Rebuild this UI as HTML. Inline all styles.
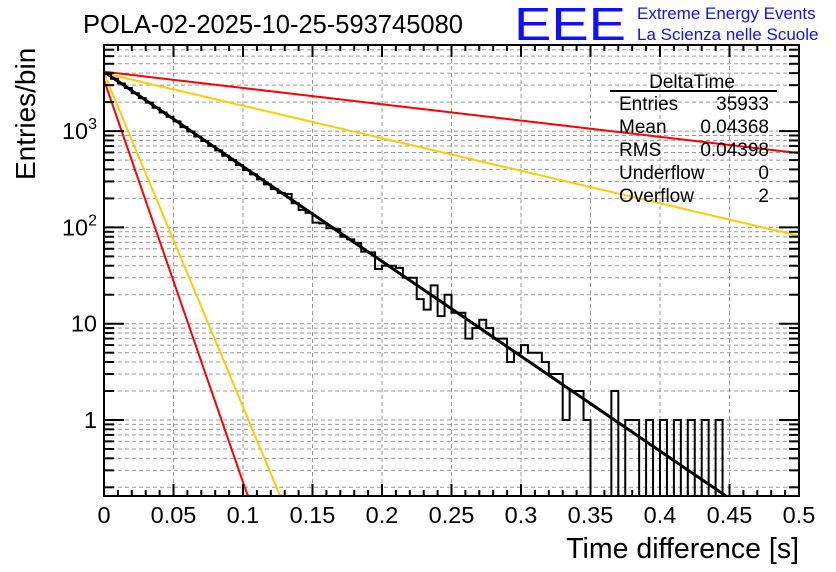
<!DOCTYPE html>
<html><head><meta charset="utf-8"><style>
body{margin:0;background:#fff;}
svg{display:block;font-family:"Liberation Sans",Arial,sans-serif;}
</style></head><body>
<svg id="c" width="836" height="572" viewBox="0 0 836 572" xmlns="http://www.w3.org/2000/svg">
<rect width="836" height="572" fill="#fff"/>
<g id="grid"></g>
<g id="curves"></g>
<g id="hist"></g>
<g id="axes"></g>
<text x="83" y="33" font-size="25.5">POLA-02-2025-10-25-593745080</text>
<text x="514" y="40" font-size="46" fill="#1010ff" textLength="112" lengthAdjust="spacingAndGlyphs">EEE</text>
<text x="637" y="19" font-size="17" fill="#1010ff">Extreme Energy Events</text>
<text x="637" y="40" font-size="17" fill="#1010ff">La Scienza nelle Scuole</text>
<text transform="translate(35,180) rotate(-90)" font-size="28">Entries/bin</text>
<text x="799" y="558" font-size="28.5" text-anchor="end">Time difference [s]</text>
<g font-size="19">
<text x="692" y="88" text-anchor="middle">DeltaTime</text>
<line x1="610" y1="91" x2="777" y2="91" stroke="#000" stroke-width="2"/>
<text x="619" y="110">Entries</text><text x="769" y="110" text-anchor="end">35933</text>
<text x="619" y="133">Mean</text><text x="769" y="133" text-anchor="end">0.04368</text>
<text x="619" y="156">RMS</text><text x="769" y="156" text-anchor="end">0.04398</text>
<text x="619" y="179">Underflow</text><text x="769" y="179" text-anchor="end">0</text>
<text x="619" y="202">Overflow</text><text x="769" y="202" text-anchor="end">2</text>
</g>
</svg>
<script>
const binWidth = 0.005;
const counts = [3900,3500,3120,2800,2470,2200,1975,1750,1560,1410,1260,1100,990,880,790,700,630,555,500,445,395,355,315,280,250,228,222,178,152,142,112,110,98,96,80,75,69,56,55,37,40,40,38,30,30,
18,14,25,12,20,13,13,7,9,11,9,7,7,4,5,6,5,5,4,3,3,1,2,2,1,0,0,0,2,0,1,1,0,1,0,1,0,1,0,1,0,1,0,1,0,0,0,0,0,0,0,0,0,0,0];
const fitAmp = [4140, 4140, 4000, 3390, 3980];
const fitTau = [0.0441, 0.2567, 0.1285, 0.0104, 0.01254];
const fitColor = ['#000','#ff0000','#ffcc00','#ff0000','#ffcc00'];
const xTicks = [0,0.05,0.1,0.15,0.2,0.25,0.3,0.35,0.4,0.45,0.5];
const xTickLabels = ['0','0.05','0.1','0.15','0.2','0.25','0.3','0.35','0.4','0.45','0.5'];
const yDecades = [1,10,100,1000];

const L=104,R=799,T=45,B=496;
const X=v=>L+v*(R-L)/0.5;
const Y=v=>420-96.3*Math.log10(v);
const yMin=Math.pow(10,(420-B)/96.3), yMax=Math.pow(10,(420-T)/96.3);
const NS='http://www.w3.org/2000/svg';
function mk(tag,attrs,parent){const e=document.createElementNS(NS,tag);for(const k in attrs)e.setAttribute(k,attrs[k]);parent.appendChild(e);return e;}
const grid=document.getElementById('grid'),axes=document.getElementById('axes'),hist=document.getElementById('hist'),curves=document.getElementById('curves');

xTicks.forEach(t=>{if(t>0&&t<0.5){const g=mk('line',{x1:X(t),x2:X(t),y1:T,y2:B,stroke:'#999','stroke-width':1,'stroke-dasharray':'4,3'},grid);

}});
for(let d=0.1;d<1e4;d*=10){for(let m=1;m<10;m++){const v=d*m;if(v<yMin||v>yMax)continue;const y=Y(v);
const g=mk('line',{x1:L,x2:R,y1:y,y2:y,stroke:'#999','stroke-width':1,'stroke-dasharray':'4,3'},grid);


const big=(m===1);const len=big?20:10;
const t1=mk('line',{x1:L,x2:L+len,y1:y,y2:y,stroke:'#000','stroke-width':2},axes);


const t2=mk('line',{x1:R,x2:R-len,y1:y,y2:y,stroke:'#000','stroke-width':2},axes);

}}

fitAmp.forEach((A,k)=>{let pts=[];for(let i=0;i<=400;i++){const x=0.5*i/400;const v=A*Math.exp(-x/fitTau[k]);if(v<yMin){pts.push([X(x),Y(yMin)]);break;}pts.push([X(x),Y(v)]);}
const p=mk('polyline',{points:pts.map(q=>q.join(',')).join(' '),fill:'none',stroke:fitColor[k],'stroke-width':k===0?3:2},curves);

});

let d='';const yc=v=>v<=0?B:Math.min(B,Y(v));
counts.forEach((c,i)=>{const x0=X(i*binWidth),x1=X((i+1)*binWidth);const y=yc(c);d+=(i===0?'M'+x0+','+y:'L'+x0+','+y)+'L'+x1+','+y;});
const hp=mk('path',{d:d,fill:'none',stroke:'#000','stroke-width':2},hist);



for(let i=0;i<=50;i++){const x=X(i*0.01);const len=(i%5===0)?12:6;
const a=mk('line',{x1:x,x2:x,y1:B,y2:B-len,stroke:'#000','stroke-width':2},axes);


const b=mk('line',{x1:x,x2:x,y1:T,y2:T+len,stroke:'#000','stroke-width':2},axes);

}
xTicks.forEach((t,i)=>{const tx=mk('text',{x:X(t),y:523,'font-size':23.5,'text-anchor':'middle'},axes);tx.textContent=xTickLabels[i];

});
yDecades.forEach(v=>{const y=Y(v);const tx=mk('text',{x:97,y:y+8,'font-size':23.5,'text-anchor':'end'},axes);


if(v<100){tx.textContent=String(v);}else{const e=Math.round(Math.log10(v));tx.textContent='10';const s=mk('tspan',{dy:-10,'font-size':16},tx);s.textContent=String(e);}});
const fr=mk('rect',{x:L,y:T,width:R-L,height:B-T,fill:'none',stroke:'#000','stroke-width':2},axes);


</script>
</body></html>
